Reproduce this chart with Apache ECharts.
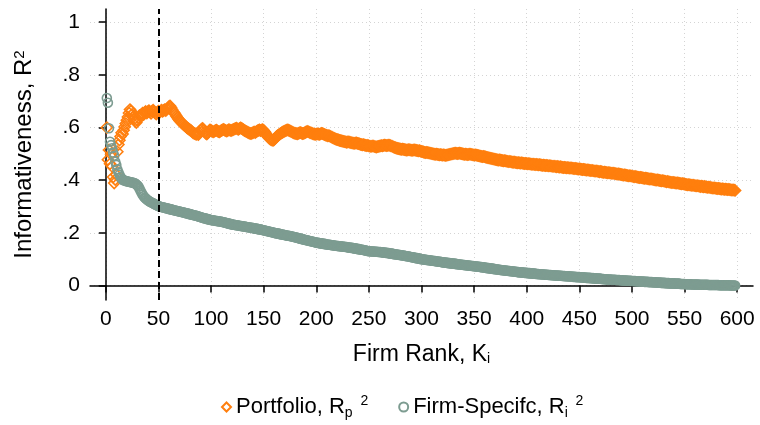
<!DOCTYPE html>
<html>
<head>
<meta charset="utf-8">
<script src="https://cdn.jsdelivr.net/npm/echarts@6/dist/echarts.min.js"></script>
<style>
  html, body { margin: 0; padding: 0; background: #fff; }
  #chart { width: 760px; height: 425px; }
</style>
</head>
<body>
<div id="chart"></div>
<script>
// informativeness by firm rank, ranks 1..598
var portfolio = [
  .600, .478, .515, .462, .498, .452, .412, .389, .402, .421,
  .508, .535, .552, .566, .580, .575, .590, .603, .615, .628,
  .640, .655, .668, .662, .650, .641, .632, .624, .619, .628,
  .637, .645, .641, .650, .655, .649, .657, .661, .655, .660,
  .664, .659, .654, .662, .666, .660, .655, .651, .658, .662,
  .657, .662, .666, .661, .665, .668, .664, .670, .674, .679,
  .682, .676, .668, .661, .656, .650, .644, .638, .632, .627,
  .623, .619, .615, .611, .607, .604, .600, .597, .594, .591,
  .588, .584, .580, .578, .576, .574, .576, .573, .579, .588,
  .594, .597, .590, .583, .578, .575, .580, .586, .591, .589,
  .586, .583, .585, .588, .590, .587, .584, .583, .586, .589,
  .591, .593, .590, .588, .586, .589, .592, .590, .588, .590,
  .592, .594, .596, .598, .595, .593, .596, .599, .597, .594,
  .591, .588, .586, .584, .582, .580, .578, .577, .579, .581,
  .583, .581, .584, .587, .589, .591, .588, .590, .592, .589,
  .584, .578, .571, .565, .561, .557, .554, .552, .551, .554,
  .559, .564, .568, .571, .574, .577, .580, .582, .584, .586,
  .588, .590, .591, .589, .587, .585, .583, .581, .579, .578,
  .577, .576, .578, .580, .581, .579, .577, .578, .580, .582,
  .584, .585, .583, .581, .580, .578, .576, .575, .574, .575,
  .576, .575, .574, .576, .578, .577, .575, .573, .571, .570,
  .568, .569, .567, .565, .563, .561, .559, .557, .555, .554,
  .553, .551, .550, .549, .548, .547, .546, .545, .544, .545,
  .545, .544, .543, .542, .541, .540, .541, .542, .540, .539,
  .538, .536, .535, .534, .535, .533, .532, .531, .532, .530,
  .529, .528, .529, .530, .528, .527, .526, .527, .528, .529,
  .530, .531, .530, .532, .533, .532, .531, .532, .533, .532,
  .530, .529, .527, .525, .524, .522, .521, .520, .519, .518,
  .517, .518, .517, .516, .515, .514, .515, .516, .515, .514,
  .513, .514, .515, .514, .513, .512, .511, .512, .510, .509,
  .508, .507, .506, .505, .506, .505, .504, .503, .502, .501,
  .500, .499, .498, .499, .498, .497, .496, .497, .496, .495,
  .496, .495, .494, .495, .496, .497, .498, .499, .500, .501,
  .502, .503, .502, .501, .502, .503, .502, .501, .500, .499,
  .498, .499, .498, .497, .498, .499, .498, .497, .496, .495,
  .496, .495, .494, .493, .492, .491, .490, .489, .490, .489,
  .488, .487, .486, .485, .484, .483, .482, .481, .480, .479,
  .478, .477, .476, .477, .476, .475, .474, .473, .474, .473,
  .472, .471, .470, .471, .470, .469, .468, .469, .468, .467,
  .466, .467, .466, .465, .466, .465, .464, .463, .464, .463,
  .462, .463, .462, .461, .460, .461, .460, .459, .460, .459,
  .458, .459, .458, .457, .456, .457, .456, .455, .456, .455,
  .454, .455, .454, .453, .452, .453, .452, .451, .452, .451,
  .450, .451, .450, .449, .448, .449, .448, .447, .448, .447,
  .446, .447, .446, .445, .444, .445, .444, .443, .442, .443,
  .442, .441, .440, .441, .440, .439, .438, .439, .438, .437,
  .436, .437, .436, .435, .434, .435, .434, .433, .432, .433,
  .432, .431, .430, .431, .430, .429, .428, .429, .428, .427,
  .426, .427, .426, .425, .424, .423, .424, .423, .422, .421,
  .420, .419, .420, .419, .418, .417, .416, .417, .416, .415,
  .414, .413, .414, .413, .412, .411, .410, .411, .410, .409,
  .408, .407, .408, .407, .406, .405, .404, .405, .404, .403,
  .402, .401, .400, .401, .400, .399, .398, .397, .398, .397,
  .396, .395, .394, .395, .394, .393, .392, .391, .392, .391,
  .390, .389, .390, .389, .388, .387, .386, .387, .386, .385,
  .384, .383, .382, .383, .382, .381, .380, .381, .380, .379,
  .378, .379, .378, .377, .376, .377, .376, .375, .376, .375,
  .374, .373, .374, .373, .372, .371, .370, .371, .370, .369,
  .368, .369, .368, .367, .366, .367, .366, .365, .366, .365,
  .364, .365, .364, .363, .362, .363, .362, .361
];

var firmSpecific = [
  .712, .694, .597, .546, .533, .521, .505, .493, .470, .458,
  .441, .430, .421, .412, .406, .402, .400, .399, .397, .396,
  .395, .394, .393, .392, .391, .390, .389, .387, .384, .381,
  .376, .368, .360, .352, .345, .339, .334, .330, .327, .324,
  .321, .318, .316, .314, .312, .310, .308, .306, .304, .302,
  .300, .299, .298, .297, .296, .295, .294, .293, .292, .291,
  .290, .289, .288, .287, .286, .285, .284, .283, .282, .281,
  .280, .279, .278, .277, .276, .275, .274, .273, .272, .271,
  .270, .269, .268, .267, .266, .265, .264, .262, .261, .260,
  .258, .257, .256, .255, .254, .253, .252, .251, .250, .249,
  .248, .248, .247, .246, .245, .245, .244, .243, .243, .242,
  .241, .240, .239, .238, .237, .236, .235, .234, .233, .232,
  .231, .231, .230, .229, .229, .228, .227, .226, .226, .225,
  .224, .224, .223, .222, .221, .221, .220, .219, .219, .218,
  .217, .216, .216, .215, .214, .213, .213, .212, .211, .210,
  .209, .208, .207, .206, .205, .204, .203, .202, .201, .200,
  .199, .198, .198, .197, .196, .195, .194, .194, .193, .192,
  .191, .190, .189, .189, .188, .187, .186, .185, .184, .183,
  .182, .181, .180, .179, .178, .177, .176, .175, .174, .173,
  .172, .171, .170, .169, .168, .167, .166, .165, .164, .163,
  .162, .162, .161, .160, .160, .159, .158, .158, .157, .156,
  .156, .155, .155, .154, .153, .153, .152, .151, .151, .150,
  .150, .149, .149, .148, .148, .147, .147, .146, .146, .145,
  .144, .144, .143, .143, .142, .141, .141, .140, .139, .138,
  .138, .137, .136, .136, .135, .134, .133, .132, .131, .130,
  .130, .130, .129, .129, .129, .128, .128, .128, .127, .127,
  .127, .126, .126, .125, .125, .124, .124, .123, .123, .122,
  .121, .121, .120, .119, .119, .118, .118, .117, .116, .116,
  .115, .114, .114, .113, .112, .111, .111, .110, .109, .108,
  .107, .107, .106, .105, .104, .104, .103, .102, .101, .100,
  .100, .099, .099, .098, .097, .097, .096, .096, .095, .094,
  .094, .093, .093, .092, .091, .091, .090, .090, .089, .088,
  .088, .087, .087, .086, .086, .085, .085, .084, .084, .083,
  .083, .082, .082, .081, .081, .080, .080, .079, .079, .078,
  .078, .077, .077, .076, .076, .075, .075, .074, .074, .073,
  .073, .072, .072, .071, .071, .070, .070, .069, .069, .068,
  .067, .067, .066, .066, .065, .065, .064, .063, .063, .062,
  .062, .061, .061, .060, .059, .059, .058, .058, .057, .057,
  .056, .056, .055, .055, .054, .054, .053, .053, .052, .052,
  .051, .051, .050, .050, .050, .049, .049, .048, .048, .048,
  .047, .047, .047, .046, .046, .045, .045, .045, .044, .044,
  .044, .043, .043, .043, .042, .042, .042, .041, .041, .041,
  .040, .040, .040, .039, .039, .039, .038, .038, .038, .038,
  .037, .037, .037, .036, .036, .036, .035, .035, .035, .035,
  .034, .034, .034, .033, .033, .033, .032, .032, .032, .032,
  .031, .031, .031, .030, .030, .030, .029, .029, .029, .029,
  .028, .028, .028, .027, .027, .027, .026, .026, .026, .026,
  .025, .025, .025, .024, .024, .024, .023, .023, .023, .023,
  .022, .022, .022, .022, .021, .021, .021, .021, .020, .020,
  .020, .019, .019, .019, .019, .018, .018, .018, .018, .017,
  .017, .017, .017, .016, .016, .016, .016, .015, .015, .015,
  .015, .014, .014, .014, .014, .013, .013, .013, .013, .012,
  .012, .012, .012, .011, .011, .011, .011, .010, .010, .010,
  .010, .009, .009, .009, .009, .008, .008, .008, .008, .008,
  .007, .007, .007, .007, .007, .006, .006, .006, .006, .006,
  .005, .005, .005, .005, .005, .005, .004, .004, .004, .004,
  .004, .004, .004, .003, .003, .003, .003, .003, .003, .003,
  .003, .003, .002, .002, .002, .002, .002, .002, .002, .002,
  .002, .002, .001, .001, .001, .001, .001, .001, .001, .001,
  .001, .001, .001, .000, .000, .000, .000, .000
];

var xTicks = [0, 50, 100, 150, 200, 250, 300, 350, 400, 450, 500, 550, 600];
var yTicks = [0, 0.2, 0.4, 0.6, 0.8, 1];
var cutoffRank = 50;

var orange = '#ff7f0e';
var sage = '#7d9c91';
var font = 'Liberation Sans, Arial, sans-serif';

var chart = echarts.init(document.getElementById('chart'), null, {renderer: 'canvas'});

function pairs(vals) {
    return vals.map(function (v, i) { return [i + 1, v]; });
}

function richText(size) {
    var small = Math.round(size * 0.62);
    return {
        b: {fontSize: size, fontFamily: font, color: '#000', lineHeight: size + 4},
        sub: {fontSize: small, fontFamily: font, color: '#000', lineHeight: small, verticalAlign: 'bottom'},
        sup: {fontSize: small, fontFamily: font, color: '#000', lineHeight: small, verticalAlign: 'top'}
    };
}

var option = {
    animation: false,
    backgroundColor: '#fff',
    grid: {left: 90, right: 7, top: 9, bottom: 125},
    legend: {
        left: 216,
        bottom: 0,
        itemWidth: 9,
        itemHeight: 9,
        itemGap: 30,
        textStyle: {fontSize: 22, fontFamily: font, color: '#000', rich: richText(22)},
        formatter: function (name) {
            if (name === 'Portfolio') return '{b|Portfolio, R}{sub|p}{sup|  2}';
            return '{b|Firm-Specifc, R}{sub|i}{sup|  2}';
        },
        data: [
            {name: 'Portfolio', icon: 'diamond', itemStyle: {color: '#fff', borderColor: orange, borderWidth: 2}},
            {name: 'Firm-Specific', icon: 'circle', itemStyle: {color: '#fff', borderColor: sage, borderWidth: 2}}
        ]
    },
    xAxis: {
        type: 'value',
        min: -15,
        max: 615,
        name: 'Firm Rank, K{sub|i}',
        nameLocation: 'middle',
        nameGap: 43,
        nameTextStyle: {fontSize: 23, fontFamily: font, color: '#000', rich: richText(23)},
        axisLine: {lineStyle: {color: '#000', width: 1.5}},
        axisTick: {length: 7, lineStyle: {color: '#000', width: 1.5}, customValues: xTicks},
        axisLabel: {fontSize: 21, fontFamily: font, color: '#000', margin: 9, customValues: xTicks},
        splitLine: {show: true, lineStyle: {color: '#d4d4d4', type: [1, 3], width: 1}}
    },
    yAxis: {
        type: 'value',
        min: -0.055,
        max: 1.05,
        name: 'Informativeness, R{sup|2}',
        nameLocation: 'middle',
        nameGap: 54,
        nameTextStyle: {fontSize: 24, fontFamily: font, color: '#000', rich: richText(24)},
        axisLine: {show: true, lineStyle: {color: '#000', width: 1.5}},
        axisTick: {show: true, length: 7, lineStyle: {color: '#000', width: 1.5}, customValues: yTicks},
        axisLabel: {
            fontSize: 21, fontFamily: font, color: '#000', margin: 10, customValues: yTicks,
            formatter: function (v) {
                return String(Math.round(v * 10) / 10).replace(/^0\./, '.');
            }
        },
        splitLine: {show: true, lineStyle: {color: '#d4d4d4', type: [1, 3], width: 1}}
    },
    series: [
        {
            name: 'Portfolio',
            type: 'scatter',
            symbol: 'diamond',
            symbolSize: 11,
            data: pairs(portfolio),
            itemStyle: {color: 'rgba(255,255,255,0)', borderColor: orange, borderWidth: 1.6, opacity: 1},
            markLine: {
                silent: true,
                symbol: 'none',
                label: {show: false},
                lineStyle: {color: '#000', type: [7, 4], width: 2},
                data: [{xAxis: cutoffRank}],
                z: 10
            }
        },
        {
            name: 'Firm-Specific',
            type: 'scatter',
            symbol: 'circle',
            symbolSize: 9,
            data: pairs(firmSpecific),
            itemStyle: {color: 'rgba(255,255,255,0)', borderColor: sage, borderWidth: 1.6, opacity: 1}
        }
    ]
};

chart.setOption(option);
</script>
</body>
</html>
